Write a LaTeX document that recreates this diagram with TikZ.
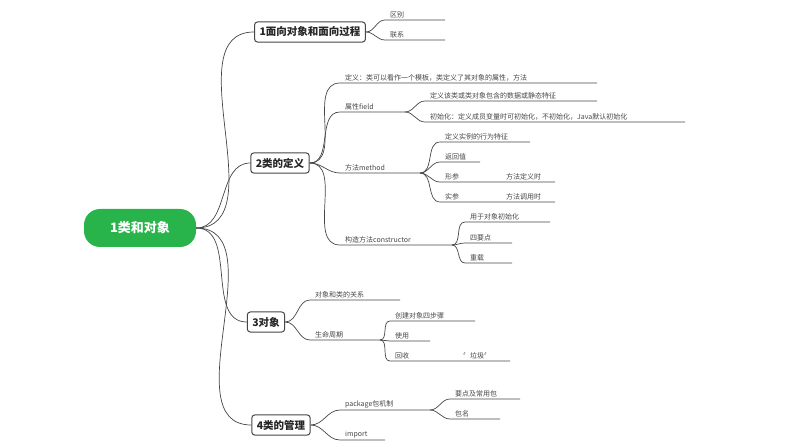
\documentclass[tikz,border=0pt]{standalone}
\usepackage{fontspec}
\setmainfont{Noto Sans CJK SC}
\usetikzlibrary{positioning}
\definecolor{rootgreen}{RGB}{40,180,75}
\definecolor{inkgray}{RGB}{70,70,70}

\tikzset{
  branch/.style={draw=inkgray, line width=0.7pt},
  leaf/.style={inner sep=1pt, font=\fontsize{7}{8}\selectfont, text=inkgray},
  topic/.style={draw=inkgray, line width=1pt, rounded corners=3pt, fill=white,
    font=\fontsize{10.5}{12}\selectfont\bfseries, text=black!85, inner sep=5pt}
}
% twig: from, name, x0, y, x1, text
\newcommand{\twig}[6]{%
  \coordinate (#2s) at (#3,#4);
  \coordinate (#2e) at (#5,#4);
  \node[leaf, anchor=south west] (#2) at (#3+4,#4-1) {#6};
  \draw[branch] (#1) to[out=0,in=180] (#2s) -- (#2e);
}

\begin{document}
\begin{tikzpicture}[x=1pt, y=-1pt]
\useasboundingbox (0,0) rectangle (800,446);

% root
\node[fill=rootgreen, rounded corners=16pt, minimum width=112pt, minimum height=38pt,
  text=white, font=\fontsize{13}{15}\selectfont\bfseries] (root) at (140,228) {1类和对象};

% main topics
\node[topic] (oop) at (310,32) {1面向对象和面向过程};
\node[topic] (def) at (280,163) {2类的定义};
\node[topic] (obj) at (266,322) {3对象};
\node[topic] (mgr) at (281,425) {4类的管理};
\foreach \t in {oop,def,obj,mgr}
  \draw[branch] (root.east) to[out=0,in=180] (\t.west);

% 1
\twig{oop.east}{qb}{385}{20}{445}{区别}
\twig{oop.east}{lx}{385}{40}{445}{联系}

% 2
\twig{def.east}{dy}{340}{83}{597}{定义：类可以看作一个模板，类定义了其对象的属性，方法}
\twig{def.east}{sx}{340}{112}{405}{属性field}
\twig{sxe}{sxa}{425}{101}{597}{定义该类或类对象包含的数据或静态特征}
\twig{sxe}{sxb}{425}{122}{685}{初始化：定义成员变量时可初始化，不初始化，Java默认初始化}
\twig{def.east}{ff}{340}{173}{420}{方法method}
\twig{ffe}{ffa}{440}{142}{530}{定义实例的行为特征}
\twig{ffe}{ffb}{440}{162}{480}{返回值}
\twig{ffe}{ffc}{440}{182}{555}{形参}
\twig{ffe}{ffd}{440}{202}{555}{实参}
\node[leaf, anchor=south west] (ffcx) at (505,181) {方法定义时};
\node[leaf, anchor=south west] (ffdx) at (505,201) {方法调用时};
\twig{def.east}{gz}{340}{245}{452}{构造方法constructor}
\twig{gze}{gza}{465}{222}{550}{用于对象初始化}
\twig{gze}{gzb}{465}{243}{512}{四要点}
\twig{gze}{gzc}{465}{263}{512}{重载}

% 3
\twig{obj.east}{gx}{310}{300}{400}{对象和类的关系}
\twig{obj.east}{sm}{310}{340}{380}{生命周期}
\twig{sme}{sma}{390}{321}{475}{创建对象四步骤}
\twig{sme}{smb}{390}{341}{430}{使用}
\twig{sme}{smc}{390}{361}{510}{回收}
\node[leaf, anchor=south west] (smcx) at (462,360) {〞垃圾〞};

% 4
\twig{mgr.east}{pk}{340}{410}{430}{package包机制}
\twig{mgr.east}{im}{340}{440}{385}{import}
\twig{pke}{pka}{450}{399}{520}{要点及常用包}
\twig{pke}{pkb}{450}{419}{500}{包名}
\end{tikzpicture}
\end{document}
